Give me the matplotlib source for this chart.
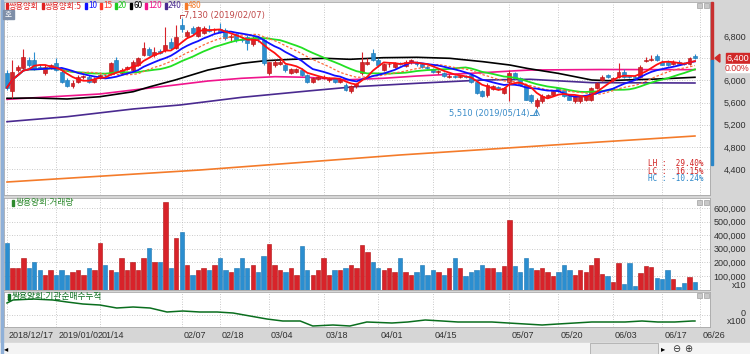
import numpy as np
import pandas as pd
import matplotlib
matplotlib.use('Agg')
import matplotlib.pyplot as plt
from matplotlib.patches import Rectangle, Polygon
from matplotlib.transforms import blended_transform_factory

plt.rcParams['font.family'] = ['Noto Sans CJK KR', 'DejaVu Sans']

# ---- data ----
tick_idx = [0, 9, 17, 32, 39, 48, 58, 68, 78, 92, 101, 111, 120, 127]
tick_lab = ['2018/12/17', '2019/01/02', '01/14', '02/07', '02/18', '03/04', '03/18',
            '04/01', '04/15', '05/07', '05/20', '06/03', '06/17', '06/26']

opens = [6130, 5800, 6190, 6220, 6370, 6370, 6250, 6130, 6250, 6310,
         6160, 6000, 5890, 5980, 6060, 6070, 5980, 6050, 6100, 6130,
         6370, 6140, 6200, 6190, 6280, 6460, 6560, 6450, 6530, 6550,
         6700, 6580, 7000, 6800, 6940, 6800, 6850, 6930, 6900, 6930,
         6900, 6780, 6830, 6750, 6790, 6650, 6760, 6730, 6130, 6280,
         6290, 6280, 6140, 6160, 6190, 6100, 5980, 6030, 6040, 6000,
         6030, 5970, 5920, 5800, 5900, 6130, 6290, 6490, 6370, 6190,
         6290, 6250, 6310, 6260, 6330, 6320, 6290, 6240, 6200, 6150,
         6140, 6060, 6080, 6070, 6080, 6100, 5980, 5800, 5730, 5850,
         5880, 5780, 5980, 6130, 6040, 5920, 5740, 5540, 5620, 5700,
         5740, 5860, 5830, 5710, 5620, 5630, 5640, 5650, 5870, 6010,
         6100, 6000, 6060, 6160, 6080, 6070, 6070, 6350, 6360, 6440,
         6340, 6340, 6300, 6340, 6320, 6290, 6440]
highs = [6180, 6370, 6280, 6570, 6420, 6520, 6300, 6280, 6300, 6400,
         6200, 6040, 6000, 6100, 6100, 6090, 6060, 6120, 6140, 6330,
         6420, 6220, 6260, 6360, 6420, 6700, 6600, 6600, 6560, 6960,
         6760, 7000, 7130, 6900, 6980, 6980, 6980, 7000, 6950, 7030,
         6950, 6830, 6860, 6780, 6820, 6800, 6800, 6760, 6340, 6360,
         6360, 6300, 6230, 6230, 6220, 6120, 6070, 6080, 6090, 6060,
         6040, 6020, 5950, 5910, 5960, 6520, 6400, 6560, 6400, 6310,
         6330, 6340, 6340, 6370, 6380, 6350, 6310, 6270, 6220, 6190,
         6160, 6110, 6100, 6090, 6100, 6120, 6000, 5830, 5950, 5920,
         5900, 5880, 6190, 6150, 6060, 5940, 5760, 5680, 5750, 5760,
         5830, 5880, 5850, 5730, 5740, 5740, 5730, 5880, 5980, 6090,
         6120, 6060, 6320, 6200, 6100, 6100, 6270, 6420, 6460, 6480,
         6360, 6360, 6360, 6360, 6340, 6420, 6480]
lows = [5820, 5680, 6150, 6200, 6250, 6180, 6200, 6100, 6200, 6170,
        5960, 5880, 5860, 5950, 6030, 5960, 5950, 6020, 6060, 6100,
        6140, 6110, 6180, 6170, 6260, 6440, 6440, 6430, 6470, 6520,
        6560, 6560, 6880, 6760, 6820, 6780, 6830, 6870, 6860, 6860,
        6720, 6700, 6700, 6690, 6550, 6620, 6700, 6280, 6100, 6250,
        6270, 6160, 6120, 6140, 6080, 5960, 5960, 6000, 6020, 5980,
        5960, 5950, 5800, 5780, 5870, 6100, 6270, 6350, 6250, 6170,
        6250, 6230, 6270, 6240, 6300, 6260, 6220, 6200, 6130, 6120,
        6060, 6040, 6040, 6040, 6040, 5960, 5750, 5700, 5700, 5820,
        5820, 5760, 5620, 6020, 5900, 5640, 5600, 5510, 5600, 5680,
        5720, 5790, 5700, 5640, 5600, 5600, 5620, 5630, 5850, 5990,
        6040, 5980, 6040, 6050, 6040, 6030, 6050, 6330, 6350, 6350,
        6270, 6260, 6280, 6290, 6270, 6280, 6380]
closes = [5870, 6160, 6250, 6430, 6280, 6200, 6230, 6250, 6280, 6190,
          5980, 5900, 5960, 6070, 6060, 5980, 6030, 6100, 6090, 6310,
          6160, 6190, 6240, 6340, 6400, 6580, 6460, 6520, 6490, 6640,
          6580, 6790, 6920, 6870, 6850, 6960, 6950, 6890, 6910, 6880,
          6760, 6800, 6720, 6720, 6670, 6760, 6740, 6310, 6330, 6340,
          6330, 6190, 6210, 6200, 6100, 5980, 6050, 6060, 6070, 6030,
          5980, 6000, 5830, 5890, 5930, 6340, 6340, 6370, 6280, 6290,
          6300, 6320, 6290, 6340, 6360, 6290, 6240, 6230, 6150, 6160,
          6080, 6080, 6060, 6080, 6060, 5980, 5770, 5720, 5920, 5890,
          5840, 5860, 6130, 6040, 5920, 5650, 5620, 5650, 5720, 5740,
          5810, 5800, 5710, 5650, 5720, 5720, 5710, 5860, 5950, 6070,
          6070, 6050, 6160, 6070, 6060, 6050, 6250, 6370, 6380, 6370,
          6280, 6280, 6340, 6300, 6300, 6400, 6400]
volume = [343, 159, 159, 232, 159, 203, 144, 107, 144, 107,
          144, 107, 129, 144, 107, 159, 144, 343, 181, 144,
          129, 232, 144, 203, 144, 232, 306, 203, 203, 644,
          159, 379, 424, 181, 107, 144, 159, 144, 181, 232,
          144, 129, 159, 232, 159, 181, 129, 247, 335, 181,
          144, 129, 159, 107, 321, 144, 107, 144, 232, 107,
          144, 144, 159, 181, 159, 328, 276, 203, 159, 144,
          159, 129, 232, 129, 107, 129, 181, 107, 144, 129,
          107, 159, 232, 159, 100, 129, 144, 181, 159, 159,
          129, 174, 512, 174, 129, 232, 159, 144, 159, 129,
          100, 129, 181, 144, 107, 144, 129, 181, 232, 115,
          100, 54, 198, 39, 198, 26, 124, 173, 168, 83,
          76, 144, 78, 21, 46, 90, 58]  # x1000 (axis units, x10)

# longer moving averages, read at sample points (index, price)
ma60_i = [0, 4.8, 11, 17, 23.1, 26.2, 30.8, 36.8, 43, 47.3, 52.2, 58.2, 62.8, 68.9, 75.1,
          81.1, 87.2, 92.1, 95.4, 100.9, 107.1, 110.1, 113.2, 119.2, 126]
ma60_v = [5677, 5683, 5665, 5706, 5796, 5886, 6007, 6187, 6308, 6355, 6380, 6398, 6380, 6409,
          6416, 6398, 6337, 6277, 6214, 6128, 6007, 5995, 6007, 6025, 6056]
ma120_i = [0, 17, 23.1, 30.8, 36.8, 43, 49.1, 55.1, 61.4, 68.9, 75.1, 81.1, 87.2, 93.4,
           95.8, 108.6, 126]
ma120_v = [5659, 5755, 5827, 5917, 5989, 6038, 6067, 6056, 6007, 6038, 6079, 6110, 6139,
           6175, 6187, 6196, 6193]
ma240_i = [0, 11, 23.1, 31.7, 43, 55.1, 63.7, 75.1, 87.2, 95.8, 107.1, 126]
ma240_v = [5256, 5346, 5485, 5557, 5695, 5809, 5886, 5948, 6007, 6020, 5959, 5953]
ma480_i = [0, 35.3, 72, 108.6, 126]
ma480_v = [4169, 4385, 4656, 4890, 4998]

# institution net buying, cumulative (sample points)
inst_i = [0, 1.1, 4.8, 8.4, 11, 13.9, 17, 20.1, 23.1, 26.2, 29.3, 32.2, 35.3, 38.5, 41.4,
          44.5, 47.6, 50.5, 53.7, 56, 59.7, 62.8, 65.9, 70.5, 73.4, 76.6, 79.7, 82.6, 85.7,
          88.8, 91.8, 94.9, 98, 100.9, 104, 107.1, 110.1, 113.2, 116.3, 119.2, 122.3,
          125.5, 126]
inst_v = [12, 15, 16, 15, 13, 11, 10, 7, 8, 7, 3, 4, 3, 3, 2, -1, -4, -6, -6, -11, -10,
          -11, -7, -8, -7, -5, -6, -7, -7, -7, -8, -9, -10, -9, -8, -7, -7, -7, -6, -7,
          -7, -6, -6]

price_ticks = [6800, 6000, 5600, 5200, 4800, 4400]
price_grid = [6800, 6400, 6000, 5600, 5200, 4800, 4400]
vol_ticks = [600, 500, 400, 300, 200, 100]

# ---- layout helpers ----
W, H = 750, 354
PX0, PXS = 7.0, 5.46          # pixel x of candle 0, pixel step per candle


def box(x0, y0, x1, y1):
    return [x0 / W, 1 - y1 / H, (x1 - x0) / W, (y1 - y0) / H]


def idx(px):
    return (px - PX0) / PXS


UP, DN = '#d8232a', '#2b8ed0'
UPE, DNE = '#b01010', '#1a74b0'
GRID = '#b8b8b8'

fig = plt.figure(figsize=(7.5, 3.54), dpi=100, facecolor='#d6d6d6')
ax = fig.add_axes(box(4, 2, 710, 195))
axv = fig.add_axes(box(4, 198, 710, 290))
axi = fig.add_axes(box(4, 292, 710, 327))
rend = fig.canvas.get_renderer()

n = len(closes)
x = np.arange(n)
o = np.array(opens); c = np.array(closes); h = np.array(highs); l = np.array(lows)
up = c >= o
col = np.where(up, UP, DN)
ecol = np.where(up, UPE, DNE)

for a in (ax, axv, axi):
    a.set_facecolor('white')
    a.set_xlim(idx(4), idx(710))
    a.set_xticks([])
    for s in a.spines.values():
        s.set_color('#a8a8a8')
        s.set_linewidth(0.6)
    for t in tick_idx:
        a.axvline(t, color=GRID, lw=0.6, ls=(0, (1, 2)), zorder=0)

# main panel
PPX = 18.02                     # price per pixel
ylo = 6800 - (195 - 36) * PPX
yhi = 6800 - (2 - 36) * PPX
ax.set_ylim(ylo, yhi)
for p in price_grid:
    ax.axhline(p, color=GRID, lw=0.6, ls=(0, (1, 2)), zorder=0)

ax.plot(ma480_i, ma480_v, color='#f47b2a', lw=1.2, zorder=2)
ax.plot(ma240_i, ma240_v, color='#4a2a90', lw=1.2, zorder=2)
ax.plot(ma120_i, ma120_v, color='#f0148c', lw=1.2, zorder=2)
ax.plot(ma60_i, ma60_v, color='black', lw=1.2, zorder=2)

ax.vlines(x, l, h, colors=col, lw=0.8, zorder=3)
body = np.maximum(np.abs(c - o), 12)
ax.bar(x, body, bottom=np.minimum(o, c), width=0.72, color=col, edgecolor=ecol,
       linewidth=0.4, zorder=4)

cs = pd.Series(closes)
ma5 = cs.rolling(5, min_periods=1).mean()
ma10 = cs.rolling(10, min_periods=1).mean()
ma15 = cs.rolling(15, min_periods=1).mean()
ma20 = cs.rolling(20, min_periods=1).mean()
ax.plot(x, ma20, color='#22e022', lw=1.3, zorder=5)
ax.plot(x, ma15, color='#ff6a3a', lw=0.9, ls=(0, (2, 1.5)), zorder=5)
ax.plot(x, ma10, color='#1010ff', lw=1.3, zorder=5)
ax.plot(x, ma5, color='#ff1010', lw=1.3, zorder=6)

ax.yaxis.tick_right()
ax.set_yticks(price_ticks)
ax.set_yticklabels([f'{p:,}' for p in price_ticks], fontsize=6.5, color='#303030',
                   family='Liberation Sans')
ax.tick_params(axis='y', length=0, pad=26)
for lab in ax.get_yticklabels():
    lab.set_ha('right')

# legend row (main), laid out left to right
leg = [('쌍용양회', '#e02020'), ('쌍용양회:5', '#e02020'), ('10', '#1010ff'),
       ('15', '#ff3a2a'), ('20', '#22cc22'), ('60', 'black'),
       ('120', '#f0148c'), ('240', '#4a2a90'), ('480', '#f47b2a')]
px = 6
for txt, cc in leg:
    fig.add_artist(Rectangle((px / W, 1 - 9 / H), 2 / W, 6 / H, color=cc))
    t = fig.text((px + 3) / W, 1 - 6 / H, txt, color=cc, fontsize=5.9, va='center', ha='left')
    px = px + 3 + t.get_window_extent(renderer=rend).width + 3

# high annotation
hi_i = int(np.argmax(highs))
hy = highs[hi_i] + 3 * PPX
ax.plot([hi_i - 0.3, hi_i - 0.3, hi_i + 0.4], [highs[hi_i], hy, hy], color='#c04848', lw=0.7)
ax.text(hi_i + 0.5, hy - 10, f'{max(highs):,} (2019/02/07)', color='#c04848', fontsize=6,
        va='center', ha='left', family='DejaVu Sans')
# low annotation
lo_i = int(np.argmin(lows))
ly = min(lows) - 7 * PPX
ax.annotate('', xy=(lo_i, min(lows) - 20), xytext=(lo_i, ly),
            arrowprops=dict(arrowstyle='->', color='#3a8cc8', lw=0.7, shrinkA=0, shrinkB=0))
ax.plot([lo_i - 1.2, lo_i], [ly, ly], color='#3a8cc8', lw=0.7)
ax.text(lo_i - 1.3, ly + 25, f'{min(lows):,} (2019/05/14)', color='#3a8cc8', fontsize=6,
        va='center', ha='right', family='DejaVu Sans')

# LH / LC / HC
last = closes[-1]
hh, ll = max(highs), min(lows)
stats = [('LH :  %.2f%%' % ((hh / ll - 1) * 100), '#d02020', 163),
         ('LC :  %.2f%%' % ((last / ll - 1) * 100), '#d02020', 171),
         ('HC : %.2f%%' % ((last / hh - 1) * 100), '#2a86c8', 179)]
for txt, cc, py in stats:
    fig.text(704 / W, 1 - py / H, txt, color=cc, fontsize=5.5, ha='right', va='center',
             family='DejaVu Sans Mono')

# current price marker on the right
trans = blended_transform_factory(ax.transAxes, ax.transData)
ax.add_patch(Rectangle((1.022, last - 5.5 * PPX), 0.034, 11 * PPX, transform=trans,
                       color='#d02828', clip_on=False, zorder=10))
ax.text(1.055, last, f'{last:,}', transform=trans, color='white', fontsize=6.5,
        ha='right', va='center', family='Liberation Sans', zorder=11)
ax.add_patch(Rectangle((1.022, last - 14 * PPX), 0.034, 8.3 * PPX, transform=trans,
                       color='white', clip_on=False, zorder=10))
ax.text(1.055, last - 10 * PPX, '0.00%', transform=trans, color='#d02828', fontsize=6.3,
        ha='right', va='center', family='Liberation Sans', zorder=11)
ax.add_patch(Polygon([[1.007, last], [1.014, last + 4 * PPX], [1.014, last - 4 * PPX]],
                     closed=True, transform=trans, color='#d02828', clip_on=False, zorder=10))
# range bar
fig.add_artist(Rectangle((710.5 / W, 1 - 60 / H), 2 / W, 58 / H, color='#c83030'))
fig.add_artist(Rectangle((710.5 / W, 1 - 165 / H), 2 / W, 105 / H, color='#2a86c8'))

# volume panel
axv.set_ylim(-3, (289.6 - 198) * 7.353)
for v in vol_ticks:
    axv.axhline(v, color=GRID, lw=0.6, ls=(0, (1, 2)), zorder=0)
axv.bar(x, volume, width=0.8, color=col, edgecolor=ecol, linewidth=0.4, zorder=3)
axv.yaxis.tick_right()
axv.set_yticks(vol_ticks)
axv.set_yticklabels([f'{v * 1000:,}' for v in vol_ticks], fontsize=6.5, color='#303030',
                    family='Liberation Sans')
axv.tick_params(axis='y', length=0, pad=26)
for lab in axv.get_yticklabels():
    lab.set_ha('right')
fig.text(746 / W, 1 - 285 / H, 'x10', fontsize=6.5, color='#303030', ha='right', va='center',
         family='Liberation Sans')
fig.add_artist(Rectangle((12 / W, 1 - 206 / H), 2 / W, 6 / H, color='#2e8a2e'))
fig.text(16 / W, 1 - 203 / H, '쌍용양회:거래량', color='#2e8a2e', fontsize=6.3, va='center')

# institution panel
axi.set_ylim(-12, 23)
axi.axhline(0, color=GRID, lw=0.6, ls=(0, (1, 2)), zorder=0)
axi.plot(inst_i, inst_v, color='#0a6e1e', lw=1.1, zorder=3)
axi.set_yticks([])
fig.text(746 / W, 1 - 313 / H, '0', fontsize=6.5, color='#303030', ha='right', va='center',
         family='Liberation Sans')
fig.text(746 / W, 1 - 321 / H, 'x100', fontsize=6.5, color='#303030', ha='right', va='center',
         family='Liberation Sans')
fig.add_artist(Rectangle((8 / W, 1 - 300 / H), 2 / W, 6 / H, color='#0a6e1e'))
fig.text(12 / W, 1 - 297 / H, '쌍용양회:기관순매수누적', color='#0a6e1e', fontsize=6.3,
         va='center')

# date strip
for t, s in zip(tick_idx, tick_lab):
    px = PX0 + PXS * t + 2
    fig.text(px / W, 1 - 335 / H, s, fontsize=6.5, color='#303030', ha='left', va='center',
             family='Liberation Sans')

# small window furniture
fig.add_artist(Rectangle((0, 1 - 354 / H), 1, 11 / H, color='#f4f4f4'))
fig.add_artist(Rectangle((590 / W, 1 - 354 / H), 68 / W, 11 / H, color='#e0e0e0', ec='#a0a0a0', lw=0.5))
fig.text(6 / W, 1 - 349 / H, '◂', fontsize=6, color='black', ha='center', va='center')
fig.text(663 / W, 1 - 349 / H, '▸', fontsize=6, color='black', ha='center', va='center')
fig.text(676 / W, 1 - 349 / H, '⊖', fontsize=7, color='#303030', ha='center', va='center', family='DejaVu Sans')
fig.text(688 / W, 1 - 349 / H, '⊕', fontsize=7, color='#303030', ha='center', va='center', family='DejaVu Sans')
fig.add_artist(Rectangle((1 / W, 0), 1.5 / W, 1, color='#8fb0d8'))
fig.add_artist(Rectangle((3 / W, 1 - 19 / H), 11 / W, 9 / H, color='#7f8fa8'))
fig.text(8.5 / W, 1 - 14.5 / H, '호', fontsize=5.5, color='white', ha='center', va='center')
for py in (3, 200, 293):
    for px in (697, 704):
        fig.add_artist(Rectangle((px / W, 1 - (py + 5) / H), 5 / W, 5 / H, color='#c8c8c8',
                                 ec='#909090', lw=0.4))

fig.savefig('out.png', dpi=100, facecolor=fig.get_facecolor())
